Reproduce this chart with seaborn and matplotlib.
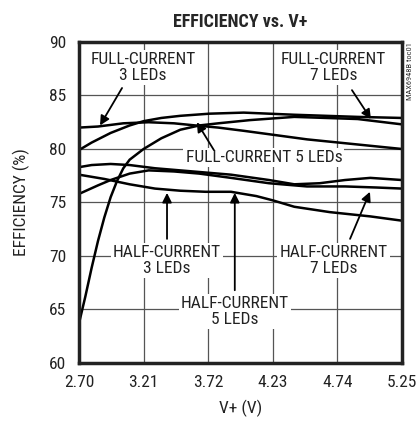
import seaborn as sns
import matplotlib
matplotlib.use("Agg")
import matplotlib.pyplot as plt
import pandas as pd
from matplotlib import font_manager

# supply voltage (V) and efficiency (%)
full_3_v = [2.70, 2.85, 3.05, 3.25, 3.45, 3.62, 3.80, 4.00, 4.25, 4.50, 4.75, 5.00, 5.25]
full_3 = [82.0, 82.1, 82.4, 82.5, 82.4, 82.2, 82.0, 81.7, 81.3, 80.9, 80.6, 80.3, 80.0]

full_5_v = [2.70, 2.75, 2.80, 2.85, 2.90, 2.95, 3.00, 3.05, 3.10, 3.21, 3.35, 3.50, 3.65,
            3.80, 4.05, 4.40, 4.90, 5.25]
full_5 = [63.7, 66.2, 68.9, 71.4, 73.6, 75.5, 77.0, 78.2, 79.0, 80.0, 81.0, 81.8, 82.2,
          82.4, 82.7, 83.0, 82.8, 82.3]

full_7_v = [2.70, 2.80, 2.95, 3.10, 3.21, 3.35, 3.50, 3.73, 4.00, 4.40, 4.90, 5.25]
full_7 = [79.9, 80.6, 81.5, 82.2, 82.6, 82.9, 83.1, 83.3, 83.4, 83.2, 83.0, 82.9]

half_3_v = [2.70, 2.90, 3.10, 3.30, 3.50, 3.70, 3.90, 4.10, 4.23, 4.40, 4.68, 5.00, 5.25]
half_3 = [77.6, 77.2, 76.7, 76.3, 76.1, 76.0, 76.0, 75.6, 75.2, 74.6, 74.1, 73.7, 73.3]

half_5_v = [2.70, 2.80, 2.95, 3.10, 3.30, 3.60, 3.90, 4.20, 4.40, 4.60, 4.80, 5.00, 5.25]
half_5 = [78.3, 78.5, 78.6, 78.5, 78.2, 77.9, 77.6, 77.1, 76.7, 76.8, 77.1, 77.3, 77.1]

half_7_v = [2.70, 2.85, 2.95, 3.10, 3.25, 3.45, 3.65, 3.90, 4.20, 4.50, 4.80, 5.05, 5.25]
half_7 = [75.8, 76.6, 77.1, 77.7, 78.0, 77.9, 77.7, 77.3, 76.8, 76.5, 76.5, 76.4, 76.3]

x_ticks = [2.70, 3.21, 3.72, 4.23, 4.74, 5.25]
x_tick_labels = ["2.70", "3.21", "3.72", "4.23", "4.74", "5.25"]
y_ticks = [60, 65, 70, 75, 80, 85, 90]

curves = {
    "FULL-CURRENT 3 LEDs": (full_3_v, full_3),
    "FULL-CURRENT 5 LEDs": (full_5_v, full_5),
    "FULL-CURRENT 7 LEDs": (full_7_v, full_7),
    "HALF-CURRENT 3 LEDs": (half_3_v, half_3),
    "HALF-CURRENT 5 LEDs": (half_5_v, half_5),
    "HALF-CURRENT 7 LEDs": (half_7_v, half_7),
}
rows = []
for name, (vs, effs) in curves.items():
    for v, e in zip(vs, effs):
        rows.append({"curve": name, "v": v, "eff": e})
df = pd.DataFrame(rows)

sns.set_style("white")

# look for a narrow face, otherwise use Liberation Sans a bit smaller
fs = 11
family = "Liberation Sans"
stretch = "normal"
names = {f.name for f in font_manager.fontManager.ttflist}
for cand in ["Liberation Sans Narrow", "DejaVu Sans Condensed", "Roboto Condensed",
             "Open Sans Condensed"]:
    if cand in names:
        family, fs = cand, 12.5
        break
else:
    cond = [f for f in font_manager.fontManager.ttflist
            if f.name == "DejaVu Sans" and "Condensed" in f.fname]
    if cond:
        family, stretch, fs = "DejaVu Sans", "condensed", 11.5
plt.rcParams["font.family"] = [family, "DejaVu Sans"]
plt.rcParams["font.stretch"] = stretch

fig = plt.figure(figsize=(4.17, 4.25), dpi=100)
ax = fig.add_axes([0.1894, 0.1459, 0.7746, 0.7553])

sns.lineplot(data=df, x="v", y="eff", units="curve", estimator=None, color="black",
             lw=1.8, sort=False, ax=ax, zorder=3)

ax.set_xlim(2.70, 5.25)
ax.set_ylim(60, 90)
ax.set_xticks(x_ticks)
ax.set_xticklabels(x_tick_labels)
ax.set_yticks(y_ticks)
ax.tick_params(length=0, labelsize=fs, pad=9, colors="#222222")
ax.grid(True, color="#555555", lw=0.9)
for s in ax.spines.values():
    s.set_color("#222222")
    s.set_linewidth(2.5)
    s.set_zorder(6)

ax.set_xlabel("V+ (V)", fontsize=fs, color="#222222", labelpad=7)
ax.set_ylabel("EFFICIENCY (%)", fontsize=fs, color="#222222", labelpad=14)
ax.set_title("EFFICIENCY vs. V+", fontsize=fs + 0.5, fontweight="bold", pad=11)

box = dict(facecolor="white", edgecolor="none", pad=1.5)
labels = [
    ("FULL-CURRENT\n3 LEDs", 3.205, 87.6),
    ("FULL-CURRENT\n7 LEDs", 4.71, 87.6),
    ("FULL-CURRENT 5 LEDs", 4.16, 79.2),
    ("HALF-CURRENT\n3 LEDs", 3.395, 69.6),
    ("HALF-CURRENT\n5 LEDs", 3.93, 64.8),
    ("HALF-CURRENT\n7 LEDs", 4.71, 69.6),
]
for txt, x, y in labels:
    ax.text(x, y, txt, ha="center", va="center", fontsize=fs, color="#222222",
            linespacing=1.05, bbox=box, zorder=4)

arrows = [
    ((2.866, 82.2), (3.04, 85.7)),
    ((5.005, 82.8), (4.855, 85.5)),
    ((3.63, 82.5), (3.765, 79.9)),
    ((3.395, 75.9), (3.395, 71.6)),
    ((3.93, 75.9), (3.93, 66.8)),
    ((4.997, 76.0), (4.84, 71.6)),
]
for tip, start in arrows:
    ax.annotate("", xy=tip, xytext=start,
                arrowprops=dict(arrowstyle="-|>", color="black", lw=1.3,
                                mutation_scale=14, shrinkA=0, shrinkB=0),
                zorder=5)

ax.text(1.025, 1.0, "MAX6948B toc01", transform=ax.transAxes, rotation=90,
        ha="center", va="top", fontsize=6, color="#333333")

fig.savefig("out.png", dpi=100)
